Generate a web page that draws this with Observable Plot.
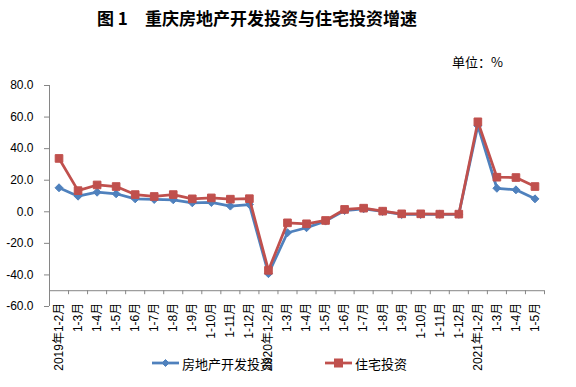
<!DOCTYPE html>
<html>
<head>
<meta charset="utf-8">
<script src="https://cdn.jsdelivr.net/npm/d3@7"></script>
<script src="https://cdn.jsdelivr.net/npm/@observablehq/plot@0.6"></script>
<style>
  body { margin: 0; background: #fff; }
  #wrap { position: relative; width: 576px; height: 387px; overflow: hidden; background: #fff; }
  #title { position: absolute; left: 97px; top: 6px; font-family: "Noto Sans CJK SC", sans-serif; font-weight: 700; font-size: 17px; line-height: 23px; color: #000; white-space: pre; }
  #unit { position: absolute; left: 452px; top: 53px; font-family: "Noto Sans CJK SC", sans-serif; font-size: 13px; line-height: 18px; color: #000; white-space: pre; }
  #chart { position: absolute; left: 0; top: 70px; }
  .leg { position: absolute; top: 353px; height: 20px; display: flex; align-items: center; font-family: "Noto Sans CJK SC", sans-serif; font-size: 13px; color: #000; white-space: pre; }
  .leg svg { margin-right: 3px; }
</style>
</head>
<body>
<div id="wrap">
  <div id="title">图 1　重庆房地产开发投资与住宅投资增速</div>
  <div id="unit">单位：%</div>
  <div id="chart"></div>
  <div class="leg" id="leg1" style="left:152px"></div>
  <div class="leg" id="leg2" style="left:325px"></div>
</div>
<script>
const categories = [
  "2019年1-2月","1-3月","1-4月","1-5月","1-6月","1-7月","1-8月","1-9月","1-10月","1-11月","1-12月",
  "2020年1-2月","1-3月","1-4月","1-5月","1-6月","1-7月","1-8月","1-9月","1-10月","1-11月","1-12月",
  "2021年1-2月","1-3月","1-4月","1-5月"
];
const seriesNames = ["房地产开发投资", "住宅投资"];
const realEstateInvest = [
  15.2, 9.9, 12.4, 11.4, 8.2, 7.8, 7.6, 5.7, 5.9, 3.6, 4.6,
  -39.2, -13.3, -10.1, -5.9, 0.8, 1.9, 0.2, -1.7, -1.7, -1.6, -1.6,
  54.5, 14.9, 13.9, 8.2
];
const housingInvest = [
  33.8, 13.4, 17.0, 16.0, 10.9, 9.7, 10.9, 8.2, 8.8, 8.0, 8.3,
  -37.1, -7.0, -7.6, -5.5, 1.5, 2.3, 0.4, -1.3, -1.3, -1.5, -1.5,
  57.0, 21.9, 21.7, 16.0
];
const yTicks = [-60, -40, -20, 0, 20, 40, 60, 80];
const xAxisCrossing = -50;

const blue = "#4F81BD", red = "#C0504D", axisColor = "#868686";
const data = categories.map((c, i) => ({i, c, a: realEstateInvest[i], h: housingInvest[i]}));
const xDomain = [-0.5, categories.length - 0.5];
const yDomain = [d3.min(yTicks), d3.max(yTicks)];
const edges = d3.range(categories.length + 1).map(i => i - 0.5);
const font = "'Liberation Sans', Arial, 'Noto Sans CJK SC', sans-serif";

const chart = Plot.plot({
  width: 576,
  height: 317,
  marginTop: 15,
  marginBottom: 81,
  marginLeft: 49,
  marginRight: 32,
  style: {fontFamily: font, fontSize: "12px", background: "#fff", color: "#000"},
  x: {type: "linear", domain: xDomain, axis: null},
  y: {domain: yDomain},
  marks: [
    Plot.ruleX([xDomain[0]], {x: d => d, y1: () => yDomain[0], y2: () => yDomain[1], stroke: axisColor}),
    Plot.axisY(yTicks, {tickFormat: d => d.toFixed(1), tickSize: 5, tickPadding: 11, stroke: axisColor, fill: "#000", fontSize: 12, label: null}),
    Plot.ruleY([xAxisCrossing], {y: d => d, x1: () => xDomain[0], x2: () => xDomain[1], stroke: axisColor}),
    Plot.ruleX(edges, {x: d => d, y1: () => xAxisCrossing, y2: () => xAxisCrossing, insetBottom: -4, stroke: axisColor}),
    Plot.text(data, {x: "i", y: () => xAxisCrossing, text: "c", rotate: -90, textAnchor: "end", dy: 12, fontSize: 12, fill: "#000"}),
    Plot.line(data, {x: "i", y: "a", stroke: blue, strokeWidth: 2.75}),
    Plot.dot(data, {x: "i", y: "a", symbol: "diamond2", r: 3.6, fill: blue, stroke: blue, strokeWidth: 1}),
    Plot.line(data, {x: "i", y: "h", stroke: red, strokeWidth: 2.75}),
    Plot.dot(data, {x: "i", y: "h", symbol: "square", r: 4.3, fill: red, stroke: red, strokeWidth: 1})
  ]
});
document.getElementById("chart").appendChild(chart);

function legendItem(el, color, shape, name) {
  const marker = shape === "diamond"
    ? `<path d="M13.5,1.5 L17,5 L13.5,8.5 L10,5 Z" fill="${color}" stroke="${color}"/>`
    : `<rect x="9.5" y="1" width="8" height="8" fill="${color}" stroke="${color}"/>`;
  el.innerHTML = `<svg width="27" height="10"><line x1="0" x2="27" y1="5" y2="5" stroke="${color}" stroke-width="2.75"/>${marker}</svg><span>${name}</span>`;
}
legendItem(document.getElementById("leg1"), blue, "diamond", seriesNames[0]);
legendItem(document.getElementById("leg2"), red, "square", seriesNames[1]);
</script>
</body>
</html>
